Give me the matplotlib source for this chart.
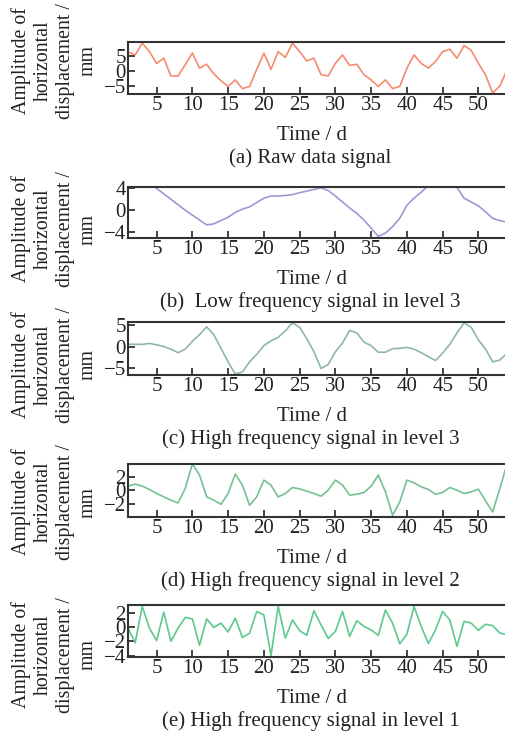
import matplotlib
matplotlib.use("Agg")
import matplotlib.pyplot as plt
import numpy as np

days = np.arange(1, 55)

raw_signal = [6.1, 5.2, 9.1, 6.3, 2.4, 4.1, -1.8, -1.8, 1.9, 5.8,
              0.8, 2.1, -1.1, -3.4, -5.3, -3.1, -6.0, -5.3, 0.4, 5.8,
              0.4, 6.3, 4.4, 9.1, 6.3, 3.2, 4.1, -1.4, -1.8, 2.4,
              5.2, 1.7, 2.1, -1.4, -3.1, -5.3, -3.1, -6.0, -5.3, 0.8,
              5.2, 2.4, 0.8, 3.0, 6.3, 7.1, 4.1, 8.3, 6.7, 2.4,
              -1.4, -7.5, -5.1, 0.2]

low_level3 = [8.0, 7.0, 6.0, 5.0, 4.0, 3.0, 2.0, 1.0, 0.0, -0.9,
              -1.8, -2.7, -2.5, -1.9, -1.3, -0.4, 0.2, 0.6, 1.4, 2.2,
              2.6, 2.6, 2.7, 2.85, 3.2, 3.5, 3.8, 4.1, 3.6, 2.6,
              1.5, 0.4, -0.6, -1.8, -3.3, -4.8, -4.2, -3.0, -1.5, 0.9,
              2.2, 3.3, 4.5, 5.5, 6.0, 5.5, 4.2, 2.2, 1.5, 0.8,
              -0.3, -1.5, -1.9, -2.2]

high_level3 = [0.5, 0.5, 0.5, 0.7, 0.4, 0.0, -0.6, -1.4, -0.6, 1.2,
               2.7, 4.5, 2.7, -0.4, -3.5, -6.3, -5.8, -3.5, -1.8, 0.2,
               1.3, 2.1, 3.6, 5.4, 4.4, 1.8, -1.2, -5.0, -4.1, -1.2,
               0.8, 3.7, 3.1, 1.0, 0.2, -1.3, -1.3, -0.5, -0.4, -0.2,
               -0.6, -1.4, -2.3, -3.2, -1.5, 0.5, 3.1, 5.4, 4.4, 1.5,
               -0.6, -3.5, -3.1, -1.5]

high_level2 = [0.6, 0.9, 0.6, 0.1, -0.5, -1.0, -1.5, -1.9, 0.25, 3.9,
               2.25, -1.0, -1.5, -2.1, -0.5, 2.4, 0.75, -2.25, -1.0, 1.5,
               0.75, -1.0, -0.5, 0.4, 0.2, -0.15, -0.5, -0.9, 0.0, 1.5,
               0.75, -0.75, -0.6, -0.35, 0.6, 2.25, -0.25, -3.75, -1.75, 1.5,
               1.1, 0.5, 0.1, -0.6, -0.35, 0.4, 0.0, -0.5, -0.25, 0.15,
               -1.6, -3.25, 0.25, 3.9]

high_level1 = [-0.15, -2.2, 2.9, -0.15, -1.9, 2.1, -2.0, -0.15, 1.35, 1.15,
               -2.55, 1.15, -0.05, 0.55, -0.7, 1.25, -1.45, -0.85, 2.2, 1.7,
               -4.0, 2.9, -1.55, 1.0, -0.5, -1.15, 2.3, 0.3, -1.6, -0.6,
               2.2, -1.3, 0.9, 0.1, -0.4, -1.15, 2.4, 0.55, -2.35, -1.0,
               2.9, 0.1, -2.3, -0.4, 2.2, 1.0, -2.7, 0.8, 0.55, -0.45,
               0.4, 0.2, -0.85, -1.05]

series = [raw_signal, low_level3, high_level3, high_level2, high_level1]
colors = ["#F58B6E", "#9D98D8", "#8DB8A2", "#74C192", "#5DC98C"]
captions = ["(a) Raw data signal",
            "(b)  Low frequency signal in level 3",
            "(c) High frequency signal in level 3",
            "(d) High frequency signal in level 2",
            "(e) High frequency signal in level 1"]
ylims = [(-7.8, 9.5), (-5.1, 4.25), (-6.5, 5.6), (-4.0, 3.9), (-4.2, 3.1)]
yticks = [[-5, 0, 5], [-4, 0, 4], [-5, 0, 5], [-2, 0, 2], [-4, -2, 0, 2]]

# axes boxes in pixels (top, bottom) and ylabel centre
W, H = 506, 736
boxes = [(42, 94), (187, 238), (322, 375), (464, 517), (605, 657)]
label_y = [61, 229, 365, 502, 655]
left_px, right_px = 128, 507

plt.rcParams["font.family"] = ["Liberation Serif", "DejaVu Serif"]
fs = 15
ink = "#222222"

fig = plt.figure(figsize=(W / 100, H / 100), dpi=100)

for i, vals in enumerate(series):
    top, bot = boxes[i]
    ax = fig.add_axes([left_px / W, 1 - bot / H,
                       (right_px - left_px) / W, (bot - top) / H])
    ax.plot(days, vals, color=colors[i], lw=1.2)
    ax.set_xlim(1, 54)
    ax.set_ylim(*ylims[i])
    ax.set_xticks(range(5, 55, 5))
    ax.set_yticks(yticks[i])
    ax.tick_params(direction="in", length=5, width=1.2, colors=ink,
                   labelsize=fs, pad=1.5)
    for s in ax.spines.values():
        s.set_color("#333333")
        s.set_linewidth(1.5)
    ax.annotate("Time / d", xy=(0.5, 0), xycoords="axes fraction",
                xytext=(-4, -30), textcoords="offset points",
                ha="center", va="center", color=ink, fontsize=fs)
    ax.annotate(captions[i], xy=(0.5, 0), xycoords="axes fraction",
                xytext=(-5, -46), textcoords="offset points",
                ha="center", va="center", color=ink, fontsize=fs)
    fig.text(54 / W, 1 - label_y[i] / H,
             "Amplitude of\nhorizontal\ndisplacement /\nmm",
             rotation=90, ha="center", va="center", multialignment="center",
             linespacing=1.22, color=ink, fontsize=14.3)

fig.savefig("out.png", dpi=100)
